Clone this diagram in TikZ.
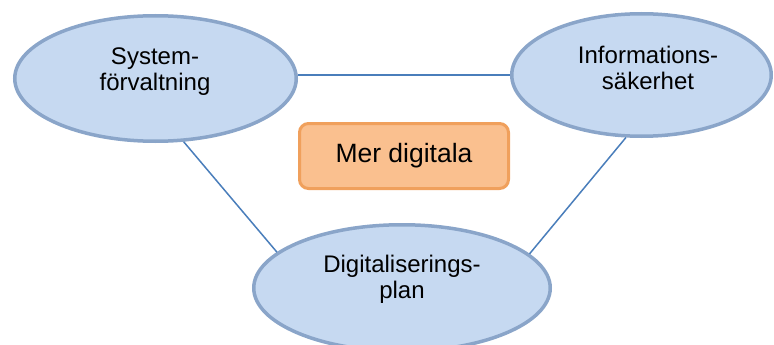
\documentclass[tikz,border=0pt]{standalone}
\usepackage{fontspec}
\setmainfont{Liberation Sans}
\usetikzlibrary{shapes.geometric}
\definecolor{ellfill}{HTML}{C6D9F1}
\definecolor{elldraw}{HTML}{8AA5C9}
\definecolor{boxfill}{HTML}{FAC08F}
\definecolor{boxdraw}{HTML}{F0A05C}
\definecolor{linkc}{HTML}{4A7EBB}
\begin{document}
\begin{tikzpicture}[x=1pt,y=-1pt,
  bubble/.style={ellipse, draw=elldraw, fill=ellfill, line width=3.5pt, inner sep=0pt},
  bubbletext/.style={align=center, font=\fontsize{24}{26}\selectfont, inner sep=0pt},
  centrebox/.style={draw=boxdraw, fill=boxfill, line width=3pt, rounded corners=9pt,
    minimum width=209pt, minimum height=65pt, inner sep=0pt, font=\fontsize{26.5}{28}\selectfont},
  link/.style={draw=linkc, line width=1.5pt}]
\useasboundingbox (0,0) rectangle (774,345);
\node[bubble, minimum width=281.5pt, minimum height=125.5pt] (sys) at (155.5,78.5) {};
\node[bubble, minimum width=259.5pt, minimum height=122.5pt] (info) at (641.5,75) {};
\node[bubble, minimum width=296.5pt, minimum height=126.5pt] (plan) at (402,288) {};
\node[centrebox] (mer) at (404,156) {Mer digitala};
\node[bubbletext] (systxt) at (155,72) {System-\\förvaltning};
\node[bubbletext] (infotxt) at (648,67.5) {Informations-\\säkerhet};
\node[bubbletext] (plantxt) at (402,279.5) {Digitaliserings-\\plan};
\draw[link] (info.west -| sys.east) -- (info.west);
\draw[link] (sys.-66.9) -- (plan.164.8);
\draw[link] (info.-104.5) -- (plan.15.3);
\end{tikzpicture}
\end{document}
